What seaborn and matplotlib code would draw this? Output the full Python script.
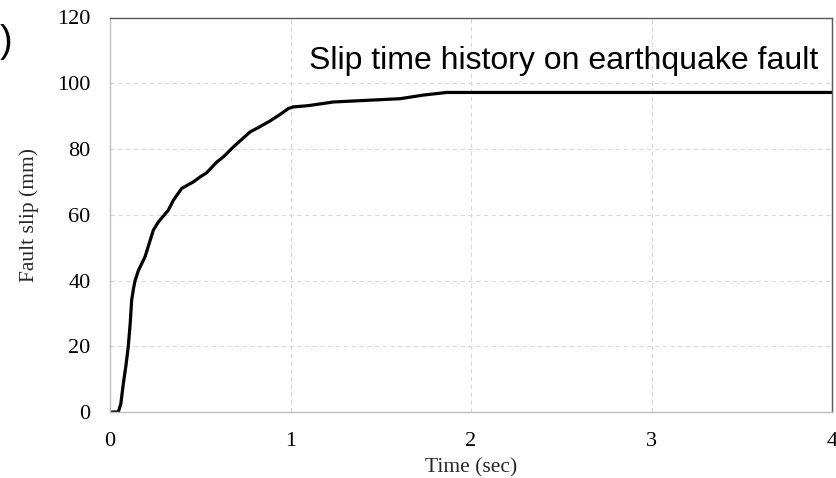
import numpy as np
import pandas as pd
import matplotlib
matplotlib.use("Agg")
import matplotlib.pyplot as plt
import seaborn as sns

# Data
time_sec = [0.0, 0.046, 0.060, 0.074, 0.088, 0.101, 0.112, 0.120, 0.130, 0.139, 0.157,
            0.194, 0.240, 0.268, 0.323, 0.351, 0.397, 0.462, 0.499, 0.536, 0.591,
            0.628, 0.683, 0.776, 0.831, 0.886, 0.950, 0.988, 1.016, 1.100, 1.237,
            1.422, 1.607, 1.736, 1.865, 2.5, 3.0, 4.0]
slip_mm = [0.0, 0.0, 2.5, 8.7, 14.0, 19.8, 27.0, 34.0, 37.5, 40.0, 43.0,
           47.2, 55.3, 57.8, 61.4, 64.4, 68.0, 70.0, 71.5, 72.8, 76.0,
           77.6, 80.6, 85.2, 86.8, 88.5, 90.8, 92.3, 92.8, 93.2, 94.3,
           94.8, 95.3, 96.4, 97.2, 97.2, 97.2, 97.2]

x_ticks = [0, 1, 2, 3, 4]
y_ticks = [0, 20, 40, 60, 80, 100, 120]
title_text = "Slip time history on earthquake fault"

df = pd.DataFrame({"Time (sec)": time_sec, "Fault slip (mm)": slip_mm})

sns.set_theme(style="white")
plt.rcParams["font.family"] = ["Liberation Serif", "DejaVu Serif"]

fig = plt.figure(figsize=(8.36, 4.78), dpi=100)
ax = fig.add_axes([110 / 836, 1 - 412 / 478, 722 / 836, (412 - 17.5) / 478])

sns.lineplot(data=df, x="Time (sec)", y="Fault slip (mm)", ax=ax,
             color="black", linewidth=2.3, estimator=None, sort=False)

ax.set_xlim(0, 4)
ax.set_ylim(0, 120)
ax.set_xticks(x_ticks)
ax.set_yticks(y_ticks)
ax.tick_params(axis="both", length=0, labelsize=16, colors="black")
ax.tick_params(axis="x", pad=14.5)
ax.tick_params(axis="y", pad=14)
for lab in ax.get_xticklabels() + ax.get_yticklabels():
    lab.set_family("Liberation Serif")

ax.grid(True, color="#d9d9d9", linestyle=(0, (4, 3)), linewidth=0.8)
ax.set_axisbelow(True)

ax.spines["top"].set_color("#595959")
ax.spines["right"].set_color("#595959")
ax.spines["left"].set_color("#bfbfbf")
ax.spines["bottom"].set_color("#bfbfbf")
for s in ax.spines.values():
    s.set_linewidth(1.0)

ax.set_xlabel("Time (sec)", fontsize=15.5, family="Liberation Serif", labelpad=5)
ax.set_ylabel("Fault slip (mm)", fontsize=15.5, family="Liberation Serif", labelpad=13)

ax.text(3.922, 104.2, title_text, ha="right", va="baseline",
        fontsize=23, family="Liberation Sans", color="black")

fig.text(0.0, 1 - 42 / 478, ")", ha="left", va="center",
         fontsize=27, family="Liberation Sans", color="black")

fig.savefig("out.png", dpi=100)
